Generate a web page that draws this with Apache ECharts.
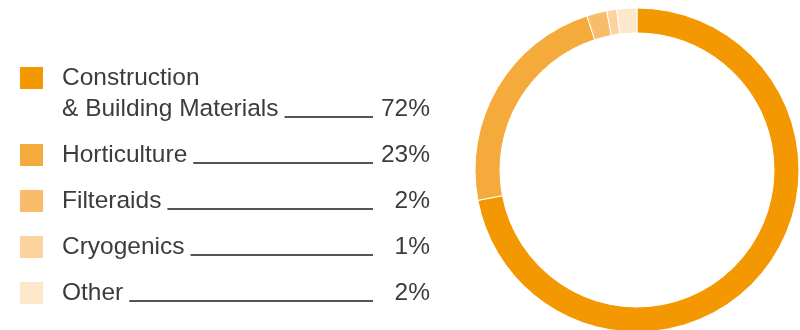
<!DOCTYPE html>
<html>
<head>
<meta charset="utf-8">
<script src="https://cdn.jsdelivr.net/npm/echarts@6/dist/echarts.min.js"></script>
<style>
  html, body { margin: 0; padding: 0; background: #fff; }
  #chart { width: 800px; height: 330px; }
</style>
</head>
<body>
<div id="chart"></div>
<script>
// Sales share by end market
const categories = [
  'Construction\n& Building Materials',
  'Horticulture',
  'Filteraids',
  'Cryogenics',
  'Other'
];
const shares = [72, 23, 2, 1, 2];
const colors = ['#F39800', '#F5AA3C', '#F8BC6A', '#FBD39F', '#FDE8CB'];

const FONT_FAMILY = '"Liberation Sans", Arial, Helvetica, sans-serif';
const FONT_SIZE = 24.5;
const LINE_HEIGHT = 31;
const NAME_COLUMN = 311;   // from text start to the end of the leader line
const LEADER_GAP = 6;      // space between a name and its leader line
const PCT_COLUMN = 57;     // right-aligned percentage column
const TEXT_COLOR = '#3c3c3c';

const measureCtx = document.createElement('canvas').getContext('2d');
measureCtx.font = FONT_SIZE + 'px ' + FONT_FAMILY;
const textWidth = s => measureCtx.measureText(s).width;

// A thin rule sitting on the text baseline, drawn as the token background
const leaderFill = {
  type: 'linear', x: 0, y: 0, x2: 0, y2: 1,
  colorStops: [
    { offset: 0, color: 'rgba(85,85,85,0)' },
    { offset: 0.86, color: 'rgba(85,85,85,0)' },
    { offset: 0.86, color: '#555' },
    { offset: 0.96, color: '#555' },
    { offset: 0.96, color: 'rgba(85,85,85,0)' },
    { offset: 1, color: 'rgba(85,85,85,0)' }
  ]
};

const lastLine = name => name.split('\n').pop();

// rich styles: one leader style per category, sized to fill up to the percentage column
const rich = {
  name: { fontSize: FONT_SIZE, fontFamily: FONT_FAMILY, color: TEXT_COLOR, lineHeight: LINE_HEIGHT },
  gap: { width: LEADER_GAP, fontSize: FONT_SIZE, fontFamily: FONT_FAMILY },
  pct: { width: PCT_COLUMN, align: 'right', fontSize: FONT_SIZE, fontFamily: FONT_FAMILY, color: TEXT_COLOR }
};
categories.forEach((name, i) => {
  rich['line' + i] = {
    width: Math.max(0, NAME_COLUMN - textWidth(lastLine(name)) - LEADER_GAP),
    height: 19,
    backgroundColor: leaderFill,
    fontSize: FONT_SIZE,
    fontFamily: FONT_FAMILY
  };
});

// the two-line entry is padded so its first line sits level with the swatch
const legendData = categories.map(name => (
  name.indexOf('\n') >= 0
    ? { name: name, textStyle: { padding: [LINE_HEIGHT, 0, 0, 14] } }
    : { name: name }
));

const chart = echarts.init(document.getElementById('chart'), null, { renderer: 'canvas' });

chart.setOption({
  animation: false,
  legend: {
    orient: 'vertical',
    left: 20,
    top: 31.5,
    padding: 0,
    itemWidth: 23,
    itemHeight: 22,
    itemGap: 15,
    icon: 'rect',
    selectedMode: false,
    itemStyle: { borderWidth: 0 },
    data: legendData,
    formatter: function (name) {
      const i = categories.indexOf(name);
      const lines = name.split('\n');
      const last = lines.pop();
      const head = lines.map(l => '{name|' + l + '}\n').join('');
      return head + '{name|' + last + '}{gap| }{line' + i + '| }{pct|' + shares[i] + '%}';
    },
    textStyle: {
      fontSize: FONT_SIZE,
      fontFamily: FONT_FAMILY,
      color: TEXT_COLOR,
      lineHeight: LINE_HEIGHT,
      padding: [0, 0, 0, 14],
      rich: rich
    }
  },
  series: [{
    type: 'pie',
    center: [637, 170],
    radius: [137, 162],
    startAngle: 90,
    clockwise: true,
    avoidLabelOverlap: false,
    label: { show: false },
    labelLine: { show: false },
    emphasis: { disabled: true },
    itemStyle: { borderColor: '#fff', borderWidth: 1 },
    data: categories.map((name, i) => ({
      name: name,
      value: shares[i],
      itemStyle: { color: colors[i] }
    }))
  }]
});
</script>
</body>
</html>
